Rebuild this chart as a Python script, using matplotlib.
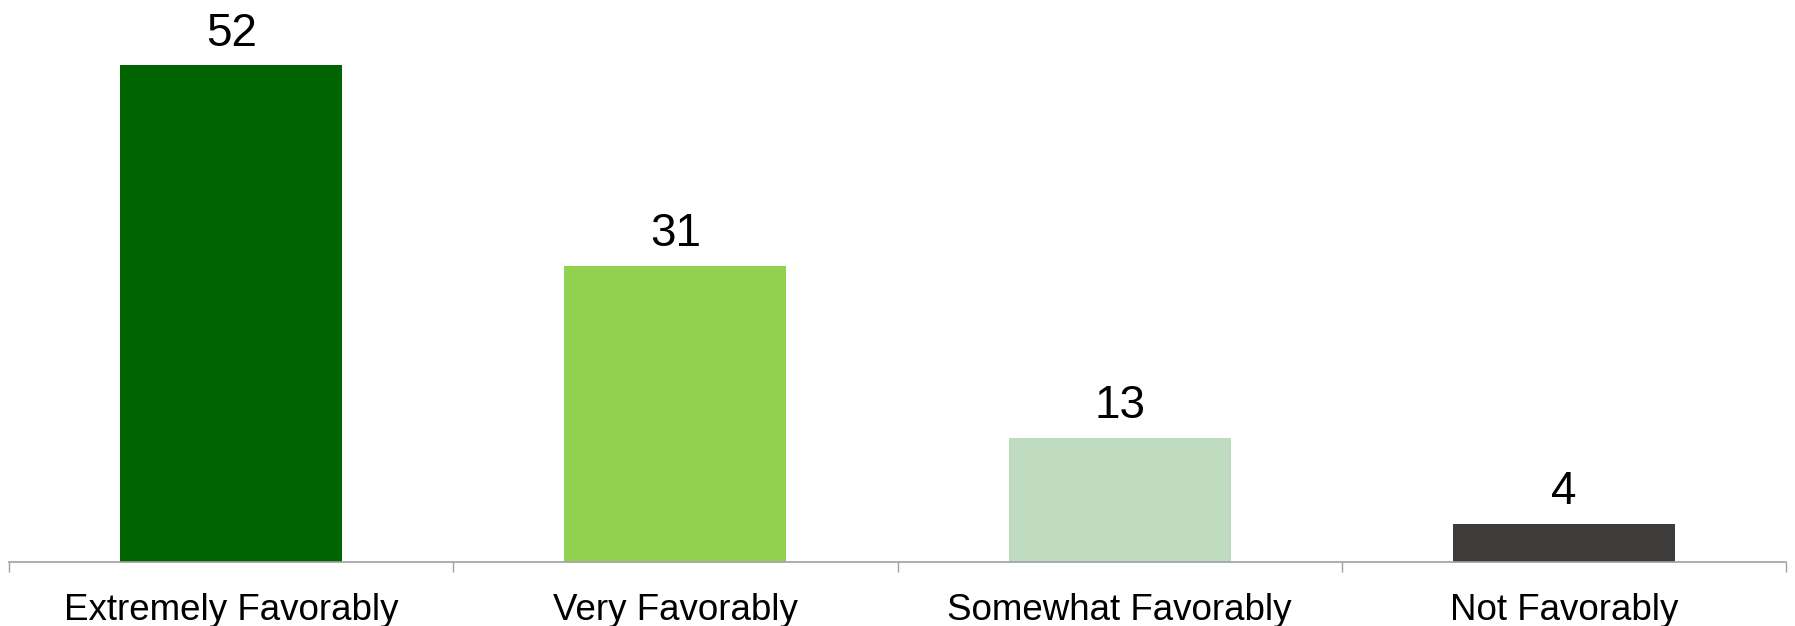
import matplotlib.pyplot as plt
from matplotlib.ticker import FixedLocator

####################################################################################################

categories = ['Extremely Favorably', 'Very Favorably', 'Somewhat Favorably', 'Not Favorably']
values = [52, 31, 13, 4]
colors = ['#006400', '#92D050', '#BFDBBF', '#3D3C3A']

####################################################################################################

plt.rcParams['font.family'] = ['Liberation Sans', 'DejaVu Sans']

figure = plt.figure(figsize=(17.95, 6.26), dpi=100)
ax = figure.add_axes([9 / 1795, 1 - 562 / 626, 1777 / 1795, 562 / 626])

x = list(range(len(categories)))
bars = ax.bar(x, values, width=0.5, color=colors)

for rect, value in zip(bars, values):
    ax.annotate(str(value),
                xy=(rect.get_x() + rect.get_width() / 2, rect.get_height()),
                xytext=(0, 14), textcoords='offset points',
                ha='center', va='baseline', fontsize=33, color='black')

ax.set_xlim(-0.5, len(categories) - 0.5)
ax.set_ylim(0, 58.8)

# category labels sit between the boundary ticks
ax.set_xticks(x)
ax.set_xticklabels(categories, fontsize=26.5)
ax.tick_params(axis='x', which='major', length=0, pad=22)
ax.xaxis.set_minor_locator(FixedLocator([i - 0.5 for i in range(len(categories) + 1)]))
ax.tick_params(axis='x', which='minor', length=7, width=1, color='#A0A0A0')

ax.set_yticks([])
for side in ('left', 'right', 'top'):
    ax.spines[side].set_visible(False)
ax.spines['bottom'].set_color('#A0A0A0')
ax.spines['bottom'].set_linewidth(1.2)

figure.savefig('out.png', dpi=100)
